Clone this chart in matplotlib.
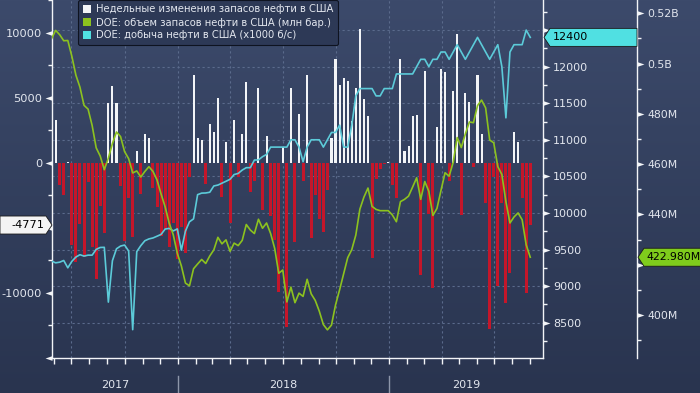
import numpy as np
import pandas as pd
import matplotlib
matplotlib.use("Agg")
import matplotlib.pyplot as plt
import matplotlib.dates as mdates
import matplotlib.transforms as mtransforms
from matplotlib.path import Path
from matplotlib.patches import Polygon, Patch
from matplotlib.colors import LinearSegmentedColormap
from matplotlib.ticker import MultipleLocator, FuncFormatter, NullFormatter

# weekly data, first week 2017-05-28
start_date = "2017-05-28"

# weekly change of US crude stocks, thousand barrels
weekly_change = [
    -6400, 3300, -1700, -2500, 100, -6300, -7600, -4700, -7200, -1500,
    -6500, -8900, -3300, -5400, 4600, 5900, 4600, -1800, -6000, -2700,
    -5700, 900, -2400, 2200, 1900, -1900, -3400, -5600, -5100, -6500,
    -4600, -7400, -4900, -6900, -1100, 6800, 1900, 1800, -1600, 3000,
    2400, 5000, -2600, 1600, -4600, 3300, -1100, 2200, 6200, -2200,
    -1400, 5800, -3600, 2100, -4100, -5900, -9900, 1200, -12600, 5800,
    -6100, 3800, -1400, 6800, -5800, -2500, -4300, -5300, -2100, 1900,
    8000, 6000, 6500, 6300, 3200, 5800, 10300, 4900, 3600, -7300,
    -1200, -500, -100, 50, -1700, -2700, 8000, 900, 1300, 3600,
    3700, -8600, 7100, -3900, -9600, 2800, 7200, 7000, -1400, 5500,
    9900, -4000, 5400, 4700, -300, 6800, 2200, -3100, -12800, -1100,
    -9500, -3100, -10800, -8500, 2400, 1600, -2700, -10000, -4771,
]

# US crude stocks, million barrels
crude_stocks = [
    509.9, 513.2, 511.5, 509.1, 509.2, 502.9, 495.4, 490.6, 483.4, 481.9,
    475.4, 466.5, 463.2, 457.8, 462.4, 468.2, 472.8, 471.0, 465.0, 462.2,
    456.5, 457.3, 454.9, 457.1, 459.0, 457.1, 453.7, 448.1, 443.0, 436.5,
    431.9, 424.5, 419.5, 412.7, 411.6, 418.4, 420.3, 422.1, 420.5, 423.5,
    425.9, 430.9, 428.3, 429.9, 425.3, 428.6, 427.6, 429.7, 436.0, 433.8,
    432.4, 438.1, 434.5, 436.6, 432.4, 426.5, 416.6, 417.9, 405.2, 411.1,
    404.9, 408.7, 407.4, 414.2, 408.4, 405.8, 401.5, 396.2, 394.1, 396.0,
    404.0, 410.0, 416.4, 422.8, 426.0, 431.8, 442.1, 446.9, 450.5, 443.2,
    442.0, 441.5, 441.5, 441.5, 439.8, 437.1, 445.1, 446.0, 447.3, 450.9,
    454.6, 446.0, 453.1, 449.2, 439.6, 442.4, 449.6, 456.6, 455.2, 460.7,
    470.6, 466.6, 472.0, 476.8, 476.5, 483.3, 485.5, 482.4, 469.6, 468.5,
    459.0, 455.9, 445.1, 436.6, 439.0, 440.6, 437.9, 427.9, 422.98,
]

# US crude production, thousand b/d
production = [
    9342, 9318, 9327, 9350, 9250, 9338, 9397, 9429, 9410, 9423,
    9423, 9502, 9528, 9530, 8781, 9347, 9510, 9547, 9561, 9480,
    8404, 9471, 9553, 9620, 9645, 9658, 9682, 9707, 9780, 9789,
    9754, 9782, 9492, 9752, 9879, 9919, 10250, 10271, 10273, 10283,
    10369, 10381, 10407, 10433, 10460, 10525, 10540, 10586, 10619, 10619,
    10723, 10725, 10769, 10800, 10900, 10900, 10900, 10900, 10900, 11000,
    11000, 10900, 10700, 10900, 11000, 11000, 11000, 10900, 11000, 11100,
    11100, 11200, 10900, 10900, 11200, 11600, 11700, 11700, 11700, 11700,
    11600, 11600, 11700, 11700, 11700, 11900, 11900, 11900, 11900, 11900,
    12000, 12100, 12100, 12000, 12100, 12100, 12200, 12200, 12100, 12200,
    12300, 12200, 12100, 12200, 12300, 12400, 12300, 12200, 12100, 12200,
    12300, 12000, 11300, 12200, 12300, 12300, 12300, 12500, 12400,
]

legend_labels = [
    "Недельные изменения запасов нефти в США",
    "DOE: объем запасов нефти в США (млн бар.)",
    "DOE: добыча нефти в США (x1000 б/с)",
]
year_labels = ["2017", "2018", "2019"]

W, H = 700, 393
BG_TOP, BG_BOT = "#3c4a6b", "#29344f"
WHITE = "#f2f4f7"
RED = "#c4162a"
GREEN = "#8cc21f"
CYAN = "#5ccbd9"
TAG_CYAN = "#50e0e2"
TAG_GREEN = "#7fcc1c"
TXT = "#e2e6ee"
GRID = "#5b6b8c"

dates = pd.date_range(start_date, periods=len(weekly_change), freq="7D")
x0 = pd.Timestamp("2017-05-28 18:00")
x1 = pd.Timestamp("2019-09-23")

fig = plt.figure(figsize=(W / 100, H / 100), dpi=100)

# background gradient
bg = fig.add_axes([0, 0, 1, 1], zorder=-5)
bg.imshow(np.linspace(0, 1, 256).reshape(-1, 1), aspect="auto",
          cmap=LinearSegmentedColormap.from_list("bg", [BG_TOP, BG_BOT]),
          extent=[0, 1, 0, 1])
bg.axis("off")

ax = fig.add_axes([52 / W, 35 / H, 491 / W, 358 / H])
ax.set_facecolor("none")

bar_colors = [WHITE if v >= 0 else RED for v in weekly_change]
bar_widths = [3.6 if v >= 0 else 5.2 for v in weekly_change]
ax.bar(dates, weekly_change, width=bar_widths, color=bar_colors, linewidth=0, zorder=2)
ax.set_xlim(x0, x1)
ax.set_ylim(-15000, 12538)

ax2 = ax.twinx()
ax2.plot(dates, production, color=CYAN, lw=1.2, zorder=3)
ax2.set_ylim(8017, 12911)

ax3 = ax.twinx()
ax3.plot(dates, crude_stocks, color=GREEN, lw=1.2, zorder=4)
ax3.set_ylim(382.9, 525.3)
ax3.spines["right"].set_position(("axes", (637 - 52) / 491))

# grid: vertical on quarters, horizontal on the production axis levels
ax.xaxis.set_major_locator(mdates.MonthLocator(bymonth=[1, 4, 7, 10]))
ax.xaxis.set_minor_locator(mdates.MonthLocator())
ax.xaxis.set_major_formatter(NullFormatter())
ax.xaxis.grid(True, which="major", color=GRID, ls=(0, (2, 2.5)), lw=0.8, zorder=0)
lo1, hi1 = ax.get_ylim()
lo2, hi2 = ax2.get_ylim()
for lev in np.arange(8500, 12501, 500):
    ax.axhline(lo1 + (lev - lo2) / (hi2 - lo2) * (hi1 - lo1), color=GRID,
               ls=(0, (2, 2.5)), lw=0.8, zorder=0)
ax.set_axisbelow(True)

# spines
for a in (ax, ax2, ax3):
    for s in a.spines.values():
        s.set_visible(False)
for s in (ax.spines["left"], ax.spines["bottom"], ax2.spines["right"], ax3.spines["right"]):
    s.set_visible(True)
    s.set_color(WHITE)
    s.set_linewidth(1.0)

ax.tick_params(axis="x", which="both", direction="out", length=4, color=WHITE, width=1)

# y ticks (labels hidden behind the value tags are left out)
ax.yaxis.set_major_locator(MultipleLocator(5000))
ax.yaxis.set_minor_locator(MultipleLocator(2500))
ax.yaxis.set_major_formatter(FuncFormatter(
    lambda v, p: "" if v < -12000 or v == -5000 else "%d" % v))
ax.tick_params(axis="y", which="major", length=0, pad=7, labelsize=8.2, labelcolor=TXT)
ax.tick_params(axis="y", which="minor", length=3, color=WHITE, width=1)

ax2.yaxis.set_major_locator(MultipleLocator(500))
ax2.yaxis.set_minor_locator(MultipleLocator(250))
ax2.yaxis.set_major_formatter(FuncFormatter(lambda v, p: "" if v == 12500 else "%d" % v))
ax2.tick_params(axis="y", which="major", length=0, pad=7.2, labelsize=8, labelcolor=TXT)
ax2.tick_params(axis="y", which="minor", length=3, color=WHITE, width=1)


def fmt_stock(v, p):
    if v == 420:
        return ""
    if v >= 500:
        return "%gB" % (v / 1000)
    return "%dM" % v


ax3.yaxis.set_major_locator(MultipleLocator(20))
ax3.yaxis.set_minor_locator(MultipleLocator(10))
ax3.yaxis.set_major_formatter(FuncFormatter(fmt_stock))
ax3.tick_params(axis="y", which="major", length=0, pad=7.2, labelsize=7.8, labelcolor=TXT)
ax3.tick_params(axis="y", which="minor", length=3, color=WHITE, width=1)

# triangle tick markers
tri_left = Path([(0, 0.34), (-1, 0), (0, -0.34), (0, 0.34)])
tri_right = Path([(0, 0.34), (1, 0), (0, -0.34), (0, 0.34)])
for t in ax.yaxis.get_major_ticks():
    t.tick1line.set_marker(tri_left)
    t.tick1line.set_markersize(10)
    t.tick1line.set_markerfacecolor(WHITE)
    t.tick1line.set_markeredgewidth(0)
for a in (ax2, ax3):
    for t in a.yaxis.get_major_ticks():
        t.tick2line.set_marker(tri_right)
        t.tick2line.set_markersize(10)
        t.tick2line.set_markerfacecolor(WHITE)
        t.tick2line.set_markeredgewidth(0)

# years under the axis
blend = mtransforms.blended_transform_factory(ax.transData, ax.transAxes)
y_starts = [x0, pd.Timestamp("2018-01-01"), pd.Timestamp("2019-01-01"), x1]
for i, lab in enumerate(year_labels):
    mid = y_starts[i] + (y_starts[i + 1] - y_starts[i]) / 2
    ax.text(mid, -0.0754, lab, transform=blend, ha="center", va="center",
            color=TXT, fontsize=8)
for d in y_starts[1:3]:
    ax.plot([d, d], [-0.05, -0.1], transform=blend, color="#8d96aa", lw=1, clip_on=False)

# legend
handles = [Patch(facecolor=WHITE, edgecolor="none"),
           Patch(facecolor=GREEN, edgecolor="none"),
           Patch(facecolor=TAG_CYAN, edgecolor="none")]
leg = ax3.legend(handles, legend_labels, loc="upper left",
                 bbox_to_anchor=(78 / W, 1.0), bbox_transform=fig.transFigure,
                 fontsize=7.2, labelcolor=TXT, frameon=True, fancybox=True,
                 facecolor="#2d3956", edgecolor="#0e1320", framealpha=1,
                 handlelength=0.8, handleheight=0.8, handletextpad=0.6,
                 labelspacing=0.3, borderpad=0.45, borderaxespad=0)
leg.get_frame().set_linewidth(0.8)

# last-value tags, drawn in pixel coordinates
ident = mtransforms.IdentityTransform()
xnum = mdates.date2num(x0)

yc = ax.transData.transform((xnum, weekly_change[-1]))[1]
fig.add_artist(Polygon([(0, yc - 9), (46, yc - 9), (52, yc), (46, yc + 9), (0, yc + 9)],
                       closed=True, facecolor="#f4f4f4", edgecolor="#1a1a1a", lw=0.6,
                       transform=ident, zorder=20))
fig.text(44, yc, "%d" % weekly_change[-1], transform=ident, ha="right", va="center",
         color="black", fontsize=8.2, zorder=21)

yc = ax2.transData.transform((xnum, production[-1]))[1]
fig.add_artist(Polygon([(544, yc), (550, yc + 9), (637, yc + 9), (637, yc - 9), (550, yc - 9)],
                       closed=True, facecolor=TAG_CYAN, edgecolor="#1a1a1a", lw=0.6,
                       transform=ident, zorder=20))
fig.text(553, yc, "%d" % production[-1], transform=ident, ha="left", va="center",
         color="black", fontsize=8, zorder=21)

yc = ax3.transData.transform((xnum, crude_stocks[-1]))[1]
fig.add_artist(Polygon([(638, yc), (644, yc + 9), (701, yc + 9), (701, yc - 9), (644, yc - 9)],
                       closed=True, facecolor=TAG_GREEN, edgecolor="#1a1a1a", lw=0.6,
                       transform=ident, zorder=20))
fig.text(646, yc, "%.3fM" % crude_stocks[-1], transform=ident, ha="left", va="center",
         color="black", fontsize=7.8, zorder=21)

fig.savefig("out.png", dpi=100)
